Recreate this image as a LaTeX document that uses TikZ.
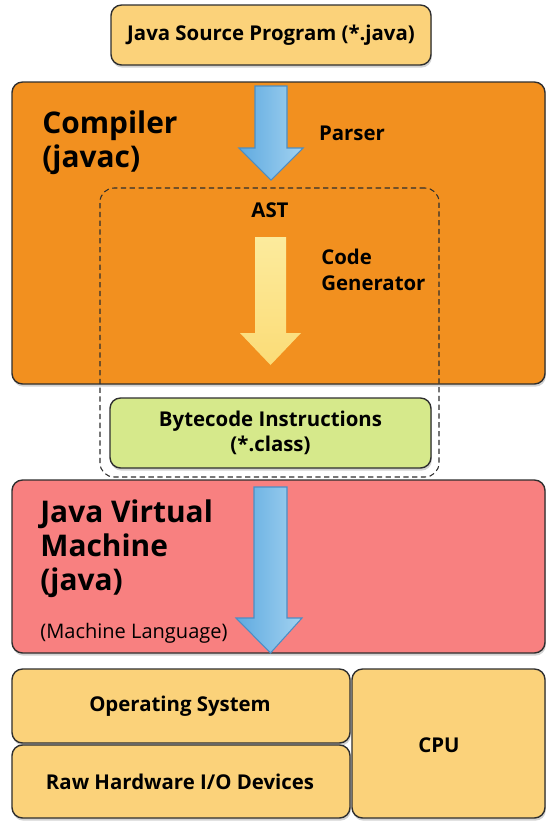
\documentclass[tikz,border=0pt]{standalone}
\usepackage{fontspec}
\setmainfont{Open Sans}
\usetikzlibrary{positioning,shadows}
\definecolor{srcfill}{HTML}{FBD27A}
\definecolor{compfill}{HTML}{F2901F}
\definecolor{bcfill}{HTML}{D6E98B}
\definecolor{jvmfill}{HTML}{F88080}
\definecolor{hwfill}{HTML}{FBD27A}
\definecolor{edge}{HTML}{2E2E2E}
\definecolor{arrowblue}{HTML}{5FAAE0}
\definecolor{arrowbluelight}{HTML}{A2D2F0}
\definecolor{arrowblueedge}{HTML}{4A8EC6}
\definecolor{arrowyellow}{HTML}{FBE684}
\tikzset{%
    layer/.style={%
        rectangle, rounded corners=6pt, draw=edge, line width=0.8pt,
        drop shadow={shadow xshift=0.5pt, shadow yshift=-1.5pt, opacity=0.35}
    },
    bigtxt/.style={%
        font=\fontsize{17}{19.5}\selectfont\bfseries, align=left, inner sep=0pt
    },
    lbl/.style={%
        font=\fontsize{11.6}{14.5}\selectfont\bfseries, align=center, inner sep=0pt
    },
    flow/.style={%
        line width=0.6pt, line join=miter
    },
}

\begin{document}
\begin{tikzpicture}
      \useasboundingbox (0,0) rectangle (10.92,-16.44);

      % compiler stage
      \node[layer, fill=srcfill, minimum width=6.4cm, minimum height=1.2cm] (src) at (5.42,-0.70) {};
      \node[lbl] (srctxt) at (src.center) {Java Source Program (*.java)};
      \node[layer, fill=compfill, minimum width=10.66cm, minimum height=6.04cm] (comp) at (5.57,-4.66) {};
      \node[bigtxt, anchor=west] (comptxt) at (0.84,-2.85) {Compiler\\(javac)};
      \node[rectangle, rounded corners=8pt, draw=edge, dash pattern=on 3pt off 2pt, line width=0.6pt,
            minimum width=6.78cm, minimum height=5.78cm] (ast) at (5.39,-6.65) {};
      \node[lbl] (asttxt) at (5.4,-4.2) {AST};

      \shadedraw[flow, left color=arrowblue, right color=arrowbluelight, draw=arrowblueedge]
        (5.1,-1.72) -- (5.74,-1.72) -- (5.74,-2.96) -- (6.06,-2.96) -- (5.42,-3.6)
        -- (4.78,-2.96) -- (5.1,-2.96) -- cycle;
      \node[lbl] (parser) at (7.04,-2.66) {Parser};

      \shade[top color=arrowyellow!80!white, bottom color=arrowyellow!90!orange]
        (5.1,-4.74) -- (5.72,-4.74) -- (5.72,-6.66) -- (6.02,-6.66) -- (5.41,-7.3)
        -- (4.8,-6.66) -- (5.1,-6.66) -- cycle;
      \node[lbl, align=left, anchor=west] (codegen) at (6.42,-5.4) {Code\\Generator};

      \node[layer, fill=bcfill, minimum width=6.42cm, minimum height=1.4cm] (bc) at (5.41,-8.66) {};
      \node[lbl] (bctxt) at (bc.center) {Bytecode Instructions\\(*.class)};

      % runtime
      \node[layer, fill=jvmfill, minimum width=10.66cm, minimum height=3.46cm] (jvm) at (5.57,-11.33) {};
      \node[bigtxt, anchor=west, font=\fontsize{17}{19.3}\selectfont\bfseries] (jvmtxt) at (0.8,-10.98) {Java Virtual\\Machine\\(java)};
      \node[font=\fontsize{11.4}{13}\selectfont, inner sep=0pt, anchor=west] (mlang) at (0.8,-12.66) {(Machine Language)};
      \shadedraw[flow, left color=arrowblue, right color=arrowbluelight, draw=arrowblueedge]
        (5.08,-9.74) -- (5.74,-9.74) -- (5.74,-12.36) -- (6.04,-12.36) -- (5.41,-13.06)
        -- (4.72,-12.36) -- (5.08,-12.36) -- cycle;

      % hardware
      \node[layer, fill=hwfill, minimum width=6.76cm, minimum height=1.48cm] (os) at (3.62,-14.12) {};
      \node[lbl] (ostxt) at (3.6,-14.12) {Operating System};
      \node[layer, fill=hwfill, minimum width=6.76cm, minimum height=1.46cm] (raw) at (3.62,-15.63) {};
      \node[lbl] (rawtxt) at (3.6,-15.63) {Raw Hardware I/O Devices};
      \node[layer, fill=hwfill, minimum width=3.86cm, minimum height=2.98cm] (cpu) at (8.97,-14.87) {};
      \node[lbl] (cputxt) at (8.78,-14.9) {CPU};
    \end{tikzpicture}
\end{document}
